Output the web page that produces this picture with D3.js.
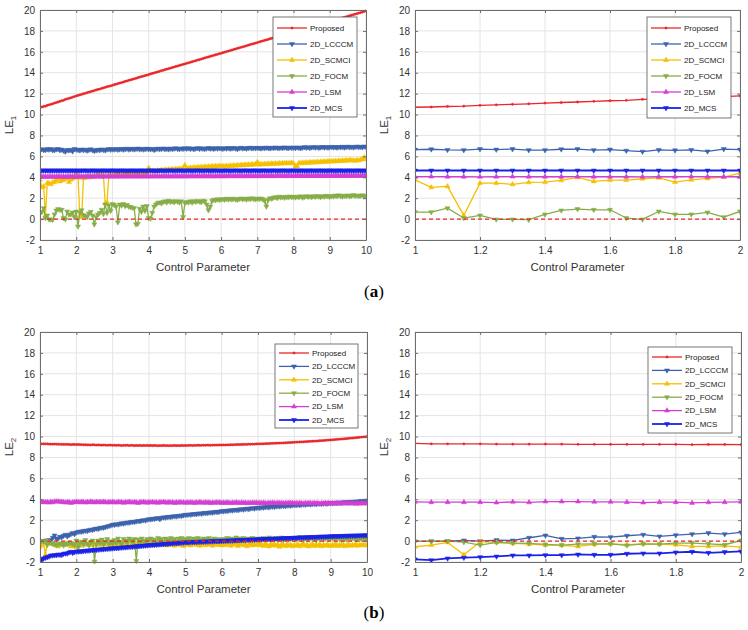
<!DOCTYPE html>
<html><head><meta charset="utf-8">
<script src="https://cdn.jsdelivr.net/npm/d3@7"></script>
<style>
body{margin:0;background:#fff;}
svg{display:block;font-family:"Liberation Sans",Arial,sans-serif;}
</style>
</head><body>
<svg id="chart" width="748" height="630"></svg>
<script>
// ---------- DATA ----------
const seriesNames = ["Proposed","2D_LCCCM","2D_SCMCI","2D_FOCM","2D_LSM","2D_MCS"];
// control parameter 1 .. 10, step 0.05 (181 samples)
const xValues = d3.range(181).map(i => Math.round((1 + i * 0.05) * 100) / 100);
const xTicksWide = [1,2,3,4,5,6,7,8,9,10];
const xTicksZoom = [1,1.2,1.4,1.6,1.8,2];
const yTicks = [-2,0,2,4,6,8,10,12,14,16,18,20];

// ----- (a) LE1 -----
const A_Proposed = [
10.70,10.72,10.77,10.80,10.88,10.93,10.98,11.03,11.10,11.15,11.20,11.26,11.32,11.36,11.45,11.50,11.55,11.60,11.66,11.72,11.78,
11.83,11.88,11.93,11.99,12.03,12.09,12.14,12.19,12.24,12.29,12.35,12.40,12.44,12.50,12.55,12.60,12.66,12.70,12.75,12.80,
12.86,12.90,12.96,13.01,13.06,13.11,13.17,13.21,13.27,13.31,13.37,13.42,13.47,13.52,13.57,13.63,13.67,13.73,13.77,13.82,
13.88,13.93,13.98,14.03,14.08,14.13,14.19,14.23,14.29,14.34,14.39,14.44,14.49,14.54,14.60,14.64,14.70,14.74,14.80,14.84,
14.90,14.95,15.00,15.05,15.10,15.15,15.21,15.25,15.31,15.36,15.41,15.46,15.51,15.56,15.62,15.66,15.72,15.76,15.82,15.86,
15.92,15.97,16.02,16.07,16.12,16.17,16.23,16.27,16.33,16.38,16.43,16.48,16.53,16.58,16.64,16.68,16.74,16.78,16.84,16.88,
16.94,16.99,17.04,17.09,17.14,17.19,17.25,17.29,17.35,17.40,17.45,17.50,17.55,17.60,17.66,17.70,17.76,17.80,17.86,17.90,
17.95,18.00,18.05,18.10,18.15,18.20,18.25,18.30,18.35,18.40,18.45,18.50,18.55,18.60,18.65,18.70,18.75,18.80,18.85,18.90,
18.95,19.00,19.05,19.10,19.15,19.20,19.25,19.30,19.35,19.40,19.45,19.50,19.55,19.60,19.65,19.70,19.75,19.80,19.86,19.92];
const A_LCCCM = [
6.65,6.68,6.62,6.60,6.70,6.65,6.70,6.60,6.60,6.68,6.70,6.60,6.65,6.55,6.45,6.62,6.58,6.62,6.48,6.70,6.65,
6.62,6.58,6.66,6.60,6.64,6.55,6.62,6.68,6.60,6.52,6.58,6.63,6.60,6.67,6.62,6.58,6.66,6.70,6.64,6.68,
6.66,6.70,6.64,6.68,6.72,6.65,6.70,6.74,6.66,6.69,6.73,6.67,6.71,6.75,6.68,6.72,6.66,6.70,6.74,6.70,
6.68,6.72,6.62,6.70,6.74,6.69,6.72,6.76,6.70,6.73,6.68,6.75,6.71,6.74,6.78,6.72,6.70,6.76,6.73,6.77,
6.74,6.78,6.72,6.76,6.70,6.75,6.79,6.73,6.77,6.74,6.71,6.76,6.80,6.74,6.77,6.72,6.78,6.75,6.79,6.76,
6.73,6.78,6.75,6.80,6.74,6.77,6.81,6.76,6.70,6.78,6.82,6.76,6.79,6.74,6.80,6.83,6.77,6.81,6.78,6.82,
6.79,6.76,6.82,6.78,6.84,6.80,6.77,6.83,6.79,6.85,6.81,6.78,6.84,6.80,6.86,6.82,6.79,6.85,6.81,6.84,
6.80,6.86,6.82,6.79,6.85,6.88,6.83,6.87,6.81,6.86,6.89,6.84,6.88,6.82,6.87,6.90,6.85,6.89,6.83,6.88,
6.91,6.86,6.89,6.84,6.90,6.87,6.92,6.85,6.89,6.93,6.87,6.91,6.86,6.90,6.94,6.88,6.92,6.87,6.95,6.90];
const A_SCMCI = [
3.76,3.03,3.13,0.35,3.44,3.44,3.32,3.51,3.54,3.70,3.99,3.60,3.73,3.73,3.86,3.95,3.54,3.76,3.89,4.02,4.40,
3.95,0.30,0.20,3.90,3.95,4.05,3.98,4.10,4.02,4.15,4.08,4.20,4.12,4.18,4.22,1.50,1.60,4.15,4.25,4.20,
4.18,4.28,4.22,4.30,4.25,4.33,4.27,4.35,4.30,4.38,4.32,4.40,4.35,4.42,4.37,4.45,4.40,4.48,4.42,4.90,
4.60,4.55,4.62,4.58,4.66,4.60,4.70,4.64,4.72,4.68,4.75,4.70,4.78,4.73,4.80,4.76,4.83,4.78,4.85,5.15,
4.88,4.84,4.92,4.87,4.95,4.90,4.98,4.93,5.00,4.95,5.02,4.97,5.04,4.99,5.06,5.01,5.08,5.03,5.10,5.05,
5.08,5.02,5.10,5.05,5.12,5.07,5.15,5.09,5.17,5.11,5.19,5.13,5.21,5.15,5.23,5.17,5.25,5.19,5.27,5.45,
5.20,5.26,5.22,5.28,5.24,5.30,5.25,5.32,5.27,5.33,5.29,5.35,5.30,5.36,5.32,5.38,5.33,5.34,5.38,5.33,
5.02,5.06,5.38,5.33,5.40,5.35,5.42,5.37,5.44,5.39,5.46,5.41,5.48,5.43,5.50,5.45,5.52,5.47,5.54,5.49,
5.55,5.50,5.57,5.52,5.59,5.54,5.61,5.56,5.63,5.58,5.65,5.60,5.62,5.57,5.64,5.60,5.68,5.75,5.90,5.72];
const A_FOCM = [
0.67,0.67,1.05,0.10,0.35,-0.03,-0.03,-0.06,0.45,0.83,0.96,0.89,0.89,0.10,-0.03,0.73,0.45,0.45,0.64,0.19,0.73,
-0.70,0.60,0.85,0.40,0.30,0.20,0.55,0.70,0.35,-0.50,0.20,0.45,0.60,0.90,0.50,1.40,0.60,1.30,0.80,1.45,
1.35,1.20,-0.30,1.40,1.30,1.45,1.25,1.35,1.20,1.15,1.10,1.05,-0.50,-0.45,1.00,0.70,1.20,0.80,1.25,0.10,
0.05,0.60,1.20,1.40,1.55,1.60,1.50,1.65,1.70,1.60,1.75,1.65,1.70,1.62,1.72,1.68,1.60,1.70,0.20,1.55,
1.65,1.60,1.70,1.58,1.72,1.66,1.74,1.68,1.62,1.76,1.70,1.40,0.85,1.20,1.75,1.85,1.80,1.90,1.84,1.88,
1.92,1.86,1.95,1.89,1.94,1.88,1.96,1.90,1.85,1.93,1.98,1.91,1.95,1.87,1.97,1.92,1.99,1.94,1.90,1.96,
1.93,1.98,1.90,1.75,1.20,1.85,2.00,1.96,2.05,2.10,2.02,2.15,2.08,2.12,2.05,2.14,2.09,2.16,2.10,2.13,
2.08,2.15,2.10,2.18,2.05,2.12,2.20,2.14,2.17,2.10,2.19,2.13,2.21,2.16,2.11,2.20,2.15,2.23,2.18,2.14,
2.22,2.17,2.25,2.19,2.28,2.21,2.16,2.24,2.20,2.27,2.18,2.23,2.30,2.22,2.26,2.19,2.24,2.28,2.20,2.22];
const A_LSM = [
4.05,4.06,4.05,4.05,4.04,4.05,4.06,4.05,4.05,4.05,4.06,4.05,4.05,4.05,4.04,4.05,4.05,4.06,4.05,4.05,4.05,
4.06,4.05,4.07,4.06,4.05,4.06,4.07,4.06,4.05,4.07,4.06,4.06,4.07,4.05,4.06,4.07,4.06,4.06,4.07,4.06,
4.07,4.06,4.07,4.08,4.06,4.07,4.07,4.08,4.06,4.07,4.08,4.07,4.07,4.08,4.07,4.06,4.08,4.07,4.08,4.07,
4.08,4.07,4.08,4.08,4.09,4.07,4.08,4.09,4.08,4.08,4.09,4.07,4.08,4.09,4.08,4.09,4.08,4.08,4.09,4.08,
4.09,4.08,4.09,4.10,4.08,4.09,4.09,4.10,4.08,4.09,4.10,4.09,4.09,4.10,4.09,4.08,4.10,4.09,4.10,4.09,
4.10,4.09,4.10,4.10,4.11,4.09,4.10,4.11,4.10,4.10,4.11,4.09,4.10,4.11,4.10,4.11,4.10,4.10,4.11,4.10,
4.11,4.10,4.11,4.12,4.10,4.11,4.11,4.12,4.10,4.11,4.12,4.11,4.11,4.12,4.11,4.10,4.12,4.11,4.12,4.11,
4.12,4.11,4.12,4.12,4.13,4.11,4.12,4.13,4.12,4.12,4.13,4.11,4.12,4.13,4.12,4.13,4.12,4.12,4.13,4.12,
4.13,4.12,4.13,4.14,4.12,4.13,4.13,4.14,4.12,4.13,4.14,4.13,4.13,4.14,4.13,4.12,4.14,4.13,4.14,4.13];
const A_MCS = [
4.65,4.65,4.65,4.65,4.65,4.65,4.65,4.65,4.65,4.65,4.65,4.65,4.65,4.65,4.65,4.65,4.65,4.65,4.65,4.65,4.65,
4.65,4.64,4.65,4.66,4.65,4.65,4.64,4.65,4.66,4.65,4.65,4.64,4.65,4.65,4.66,4.65,4.64,4.65,4.65,4.66,
4.65,4.65,4.64,4.65,4.66,4.65,4.65,4.64,4.65,4.65,4.66,4.65,4.64,4.65,4.65,4.66,4.65,4.65,4.64,4.65,
4.66,4.65,4.65,4.64,4.65,4.65,4.66,4.65,4.64,4.65,4.65,4.66,4.65,4.65,4.64,4.65,4.66,4.65,4.65,4.64,
4.65,4.66,4.65,4.64,4.65,4.65,4.66,4.65,4.65,4.64,4.65,4.66,4.65,4.64,4.65,4.65,4.66,4.65,4.65,4.64,
4.65,4.65,4.66,4.65,4.64,4.65,4.65,4.66,4.65,4.65,4.64,4.65,4.66,4.65,4.65,4.64,4.65,4.66,4.65,4.65,
4.64,4.65,4.66,4.65,4.65,4.64,4.65,4.65,4.66,4.65,4.64,4.65,4.65,4.66,4.65,4.65,4.64,4.65,4.66,4.65,
4.65,4.64,4.65,4.66,4.65,4.65,4.64,4.65,4.66,4.65,4.65,4.64,4.65,4.66,4.65,4.65,4.64,4.65,4.65,4.66,
4.65,4.65,4.64,4.65,4.66,4.65,4.65,4.64,4.65,4.66,4.65,4.65,4.64,4.65,4.66,4.65,4.65,4.64,4.65,4.65];

// ----- (b) LE2 -----
const B_Proposed = [
9.35,9.30,9.30,9.30,9.30,9.28,9.27,9.27,9.28,9.27,9.26,9.26,9.25,9.25,9.25,9.25,9.25,9.22,9.24,9.24,9.23,
9.24,9.22,9.23,9.21,9.22,9.20,9.21,9.19,9.22,9.20,9.18,9.20,9.19,9.17,9.19,9.18,9.16,9.18,9.17,9.16,
9.17,9.15,9.17,9.16,9.14,9.16,9.15,9.17,9.14,9.16,9.15,9.13,9.15,9.14,9.16,9.13,9.15,9.14,9.16,9.14,
9.15,9.13,9.15,9.14,9.12,9.14,9.13,9.15,9.13,9.14,9.12,9.14,9.13,9.15,9.13,9.14,9.13,9.15,9.14,9.15,
9.14,9.15,9.16,9.14,9.16,9.15,9.17,9.15,9.16,9.17,9.16,9.18,9.17,9.16,9.18,9.17,9.19,9.18,9.20,9.19,
9.20,9.19,9.21,9.20,9.22,9.21,9.23,9.22,9.24,9.23,9.25,9.24,9.26,9.25,9.27,9.26,9.28,9.27,9.29,9.29,
9.30,9.31,9.31,9.32,9.33,9.33,9.34,9.35,9.35,9.36,9.37,9.38,9.38,9.39,9.40,9.41,9.42,9.43,9.44,9.45,
9.46,9.47,9.48,9.49,9.50,9.51,9.52,9.53,9.54,9.55,9.56,9.57,9.58,9.60,9.61,9.62,9.63,9.65,9.66,9.67,
9.69,9.70,9.72,9.73,9.75,9.76,9.78,9.79,9.81,9.83,9.84,9.86,9.88,9.89,9.91,9.93,9.95,9.96,9.98,10.00];
const B_LCCCM = [
-0.03,-0.03,0.00,0.06,0.00,0.10,0.06,0.32,0.54,0.22,0.26,0.41,0.38,0.51,0.61,0.45,0.57,0.67,0.77,0.67,0.83,
0.88,0.92,0.90,0.96,1.00,0.98,1.05,1.10,1.08,1.15,1.20,1.18,1.25,1.30,1.28,1.35,1.40,1.45,1.50,1.58,
1.55,1.62,1.60,1.66,1.70,1.68,1.74,1.78,1.76,1.82,1.85,1.83,1.89,1.93,1.91,1.97,2.00,1.98,2.05,2.10,
2.08,2.14,2.12,2.18,2.20,2.10,2.24,2.27,2.25,2.30,2.33,2.31,2.36,2.38,2.36,2.41,2.44,2.42,2.47,2.52,
2.50,2.55,2.53,2.58,2.60,2.58,2.63,2.65,2.62,2.68,2.70,2.68,2.73,2.75,2.72,2.78,2.80,2.78,2.83,2.87,
2.85,2.90,2.88,2.93,2.95,2.93,2.98,3.00,2.97,3.03,3.05,3.02,3.08,3.10,3.07,3.13,3.15,3.12,3.18,3.20,
3.18,3.23,3.20,3.25,3.27,3.24,3.29,3.31,3.28,3.33,3.35,3.32,3.37,3.38,3.35,3.40,3.42,3.39,3.44,3.46,
3.44,3.48,3.45,3.50,3.51,3.48,3.53,3.54,3.51,3.56,3.57,3.54,3.58,3.59,3.56,3.60,3.61,3.58,3.63,3.64,
3.62,3.66,3.64,3.68,3.69,3.66,3.71,3.72,3.70,3.74,3.75,3.73,3.77,3.78,3.76,3.81,3.83,3.80,3.85,3.88];
const B_SCMCI = [
-0.54,-0.38,-0.13,-1.31,-0.06,-0.13,-0.22,-0.29,-0.38,-0.41,-0.51,-0.32,-0.26,-0.35,-0.26,-0.29,-0.35,-0.51,-0.51,-0.45,-0.57,
-0.20,-0.45,-0.15,-0.30,-0.10,-0.35,-0.25,-0.05,-0.40,-0.20,-0.30,-0.12,-0.38,-0.22,-0.08,-0.32,-0.18,-0.42,-0.25,-0.15,
-0.30,-0.10,-0.35,-0.20,-0.45,-0.15,-0.28,-0.05,-0.38,-0.22,-0.12,-0.35,-0.25,-0.40,-0.18,-0.30,-0.08,-0.33,-0.20,-0.28,
-0.15,-0.35,-0.22,-0.40,-0.18,-0.30,-0.10,-0.38,-0.25,-0.42,-0.20,-0.33,-0.15,-0.45,-0.28,-0.22,-0.38,-0.30,-0.48,-0.25,
-0.35,-0.20,-0.42,-0.28,-0.15,-0.38,-0.25,-0.45,-0.30,-0.18,-0.40,-0.26,-0.35,-0.22,-0.44,-0.30,-0.20,-0.38,-0.28,-0.42,
-0.25,-0.40,-0.30,-0.18,-0.45,-0.28,-0.35,-0.22,-0.48,-0.32,-0.20,-0.40,-0.27,-0.50,-0.35,-0.23,-0.42,-0.30,-0.38,-0.25,
-0.40,-0.30,-0.48,-0.25,-0.38,-0.52,-0.30,-0.42,-0.28,-0.46,-0.35,-0.55,-0.30,-0.40,-0.48,-0.32,-0.45,-0.36,-0.50,-0.38,
-0.45,-0.33,-0.50,-0.38,-0.28,-0.46,-0.35,-0.52,-0.40,-0.30,-0.48,-0.36,-0.44,-0.32,-0.50,-0.38,-0.46,-0.34,-0.42,-0.48,
-0.36,-0.44,-0.30,-0.48,-0.38,-0.45,-0.33,-0.50,-0.40,-0.35,-0.46,-0.38,-0.42,-0.32,-0.45,-0.38,-0.40,-0.35,-0.42,-0.40];
const B_FOCM = [
-0.03,0.00,0.00,-0.10,-0.38,-0.13,-0.19,-0.22,-0.32,-0.38,-0.29,-0.26,-0.26,-0.41,-0.26,-0.29,-0.19,-0.19,-0.26,-0.35,0.06,
-0.60,-0.20,-0.05,-0.35,0.10,-0.25,-0.40,-0.10,0.05,-1.95,-0.30,0.05,-0.20,0.15,-0.35,-0.05,0.20,-0.25,0.00,-0.30,
0.10,-0.20,0.25,-0.05,-0.30,0.20,0.05,-0.15,0.25,0.10,-0.10,0.20,-1.90,0.15,-0.20,0.25,0.05,-0.15,0.20,0.10,
0.25,0.00,0.15,-0.10,0.30,0.10,0.20,-0.05,0.25,0.15,0.05,0.30,0.10,0.20,-0.05,0.25,0.15,0.30,0.05,0.20,
0.15,0.30,0.05,0.20,0.25,0.10,0.30,0.15,0.00,0.25,0.10,0.20,0.30,0.05,0.15,0.25,0.10,0.20,0.05,0.15,
0.20,0.10,0.30,0.15,0.25,0.05,0.20,0.35,0.10,0.25,0.15,0.30,0.05,0.20,0.25,0.10,0.30,0.15,0.20,0.25,
0.10,0.25,0.30,0.15,0.20,0.35,0.10,0.25,0.20,0.30,0.15,0.25,0.35,0.10,0.20,0.30,0.15,0.25,0.20,0.30,
0.15,0.25,0.40,0.20,0.10,0.30,0.25,0.15,0.35,0.20,0.25,0.10,0.30,0.20,0.35,0.15,0.25,0.30,0.20,0.25,
0.30,0.15,0.25,0.35,0.20,0.10,0.30,0.25,0.15,0.35,0.20,0.30,0.25,0.15,0.30,0.20,0.25,0.35,0.20,0.25];
const B_LSM = [
3.75,3.72,3.72,3.72,3.72,3.68,3.75,3.70,3.78,3.78,3.78,3.75,3.75,3.72,3.68,3.72,3.72,3.65,3.70,3.72,3.75,
3.74,3.70,3.76,3.72,3.68,3.74,3.71,3.77,3.73,3.69,3.75,3.71,3.74,3.70,3.76,3.72,3.68,3.73,3.70,3.74,
3.71,3.68,3.74,3.70,3.73,3.66,3.72,3.69,3.75,3.71,3.68,3.73,3.70,3.64,3.72,3.69,3.74,3.70,3.67,3.72,
3.69,3.73,3.68,3.71,3.66,3.72,3.69,3.74,3.70,3.67,3.72,3.68,3.71,3.65,3.70,3.67,3.72,3.68,3.70,3.66,
3.70,3.67,3.71,3.68,3.65,3.70,3.67,3.72,3.68,3.66,3.70,3.67,3.69,3.64,3.68,3.66,3.71,3.67,3.69,3.65,
3.68,3.65,3.69,3.66,3.63,3.68,3.65,3.70,3.66,3.64,3.68,3.65,3.67,3.62,3.66,3.64,3.68,3.65,3.67,3.63,
3.66,3.63,3.67,3.64,3.61,3.66,3.63,3.67,3.64,3.62,3.66,3.63,3.65,3.60,3.64,3.62,3.66,3.63,3.65,3.61,
3.64,3.61,3.65,3.62,3.59,3.64,3.61,3.65,3.62,3.60,3.64,3.61,3.63,3.55,3.62,3.60,3.64,3.61,3.63,3.59,
3.62,3.59,3.63,3.60,3.58,3.62,3.59,3.63,3.60,3.58,3.62,3.59,3.61,3.57,3.60,3.58,3.62,3.59,3.61,3.60];
const B_MCS = [
-1.75,-1.82,-1.66,-1.59,-1.53,-1.47,-1.37,-1.37,-1.34,-1.34,-1.28,-1.31,-1.31,-1.21,-1.18,-1.18,-1.08,-1.02,-1.12,-1.05,-0.99,
-1.00,-0.97,-0.98,-0.94,-0.93,-0.90,-0.91,-0.87,-0.86,-0.84,-0.84,-0.81,-0.80,-0.78,-0.78,-0.75,-0.74,-0.72,-0.71,-0.69,
-0.68,-0.66,-0.66,-0.63,-0.62,-0.60,-0.60,-0.57,-0.56,-0.54,-0.54,-0.51,-0.50,-0.48,-0.48,-0.45,-0.44,-0.42,-0.41,-0.38,
-0.38,-0.36,-0.35,-0.34,-0.32,-0.31,-0.30,-0.28,-0.27,-0.26,-0.24,-0.23,-0.22,-0.20,-0.19,-0.18,-0.16,-0.15,-0.14,-0.12,
-0.12,-0.11,-0.10,-0.09,-0.09,-0.08,-0.07,-0.06,-0.06,-0.05,-0.04,-0.04,-0.03,-0.02,-0.02,-0.01,0.00,0.00,0.01,0.02,
0.02,0.03,0.04,0.05,0.05,0.06,0.07,0.08,0.08,0.09,0.10,0.11,0.11,0.12,0.13,0.14,0.14,0.15,0.16,0.17,
0.17,0.18,0.19,0.20,0.20,0.21,0.22,0.23,0.23,0.24,0.25,0.26,0.26,0.27,0.28,0.29,0.29,0.30,0.31,0.32,
0.32,0.33,0.34,0.35,0.35,0.36,0.37,0.38,0.38,0.39,0.40,0.40,0.41,0.42,0.42,0.43,0.44,0.44,0.45,0.46,
0.46,0.47,0.47,0.48,0.49,0.49,0.50,0.50,0.51,0.51,0.52,0.52,0.53,0.53,0.54,0.54,0.55,0.55,0.56,0.56];

// ---------- STYLE / LAYOUT ----------
const seriesStyle = [
  {color:"#e8282b", marker:"dot",  width:1.3},
  {color:"#3d63ad", marker:"down", width:1.3},
  {color:"#f5c000", marker:"up",   width:1.3},
  {color:"#86ae48", marker:"down", width:1.3},
  {color:"#d43fd3", marker:"up",   width:1.3},
  {color:"#1a22e6", marker:"down", width:1.8}
];
const dataA = [A_Proposed, A_LCCCM, A_SCMCI, A_FOCM, A_LSM, A_MCS];
const dataB = [B_Proposed, B_LCCCM, B_SCMCI, B_FOCM, B_LSM, B_MCS];

const panels = [
  {data:dataA, xMax:10, ticks:xTicksWide, left:40,  right:366, top:10,  bottom:240, sub:"1",
   leg:{x:273, y:17, w:84, h:100, first:11, step:16}},
  {data:dataA, xMax:2,  ticks:xTicksZoom, left:415, right:740, top:10,  bottom:240, sub:"1",
   leg:{x:647, y:17, w:84, h:101, first:11, step:16}},
  {data:dataB, xMax:10, ticks:xTicksWide, left:40,  right:367, top:332, bottom:562, sub:"2",
   leg:{x:275, y:344, w:83, h:84, first:9, step:13.4}},
  {data:dataB, xMax:2,  ticks:xTicksZoom, left:415, right:741, top:332, bottom:562, sub:"2",
   leg:{x:648, y:347, w:84, h:86, first:10, step:13.4}}
];

const svg = d3.select("#chart");
const triUp = d3.symbol().type(d3.symbolTriangle).size(11)();

function markerPath(kind){
  if (kind === "dot") return d3.symbol().type(d3.symbolCircle).size(4)();
  return triUp;
}
function drawMarker(sel, kind){
  sel.attr("d", markerPath(kind))
     .attr("transform", d => `translate(${d[0]},${d[1]})` + (kind === "down" ? " rotate(180)" : ""));
}

panels.forEach((p, pi) => {
  const g = svg.append("g");
  const x = d3.scaleLinear().domain([1, p.xMax]).range([p.left, p.right]);
  const y = d3.scaleLinear().domain([-2, 20]).range([p.bottom, p.top]);

  // background + grid
  g.append("rect").attr("x", p.left).attr("y", p.top)
    .attr("width", p.right - p.left).attr("height", p.bottom - p.top).attr("fill", "#fff");
  g.selectAll(null).data(p.ticks).join("line")
    .attr("x1", d => x(d)).attr("x2", d => x(d)).attr("y1", p.top).attr("y2", p.bottom)
    .attr("stroke", "#e4e4e4").attr("stroke-width", 1);
  g.selectAll(null).data(yTicks).join("line")
    .attr("x1", p.left).attr("x2", p.right).attr("y1", d => y(d)).attr("y2", d => y(d))
    .attr("stroke", "#e4e4e4").attr("stroke-width", 1);

  const clipId = "clip" + pi;
  svg.append("clipPath").attr("id", clipId).append("rect")
    .attr("x", p.left).attr("y", p.top - 2).attr("width", p.right - p.left).attr("height", p.bottom - p.top + 4);
  const plot = g.append("g").attr("clip-path", `url(#${clipId})`);

  const line = d3.line().x(d => d[0]).y(d => d[1]);
  p.data.forEach((vals, k) => {
    const st = seriesStyle[k];
    const pts = vals.map((v, i) => [xValues[i], v])
      .filter(d => d[0] <= p.xMax + 1e-9)
      .map(d => [x(d[0]), y(d[1])]);
    plot.append("path").attr("d", line(pts)).attr("fill", "none")
      .attr("stroke", st.color).attr("stroke-width", st.width).attr("stroke-linejoin", "round");
    const m = plot.append("g").attr("fill", st.color).attr("stroke", st.color).attr("stroke-width", 0.5);
    drawMarker(m.selectAll("path").data(pts).join("path"), st.marker);
  });

  // zero reference line
  plot.append("line").attr("x1", p.left).attr("x2", p.right).attr("y1", y(0)).attr("y2", y(0))
    .attr("stroke", "#e8282b").attr("stroke-width", 1.1).attr("stroke-dasharray", "4,3");

  // axes
  const fmt = d => String(d);
  const axCol = "#6e6e6e";
  const ax = [
    g.append("g").attr("transform", `translate(0,${p.bottom})`)
      .call(d3.axisBottom(x).tickValues(p.ticks).tickFormat(fmt).tickSizeInner(-3).tickSizeOuter(0).tickPadding(7)),
    g.append("g").attr("transform", `translate(${p.left},0)`)
      .call(d3.axisLeft(y).tickValues(yTicks).tickFormat(fmt).tickSizeInner(-3).tickSizeOuter(0).tickPadding(5)),
    g.append("g").attr("transform", `translate(0,${p.top})`)
      .call(d3.axisTop(x).tickValues(p.ticks).tickFormat("").tickSizeInner(-3).tickSizeOuter(0)),
    g.append("g").attr("transform", `translate(${p.right},0)`)
      .call(d3.axisRight(y).tickValues(yTicks).tickFormat("").tickSizeInner(-3).tickSizeOuter(0))
  ];
  ax.forEach(a => {
    a.select(".domain").attr("stroke", axCol);
    a.selectAll(".tick line").attr("stroke", axCol);
    a.selectAll(".tick text").attr("fill", "#333").style("font-size", "10px")
      .style("font-family", '"Liberation Sans", Arial, sans-serif');
  });

  // axis titles
  g.append("text").attr("x", (p.left + p.right) / 2).attr("y", p.bottom + 31)
    .attr("text-anchor", "middle").attr("fill", "#333").style("font-size", "11.5px")
    .text("Control Parameter");
  const yl = g.append("text")
    .attr("transform", `translate(${p.left - 27},${(p.top + p.bottom) / 2}) rotate(-90)`)
    .attr("text-anchor", "middle").attr("fill", "#333").style("font-size", "11.5px");
  yl.append("tspan").text("LE");
  yl.append("tspan").attr("dy", "0.35em").style("font-size", "8px").text(p.sub);

  // legend
  const L = p.leg;
  const lg = g.append("g");
  lg.append("rect").attr("x", L.x).attr("y", L.y).attr("width", L.w).attr("height", L.h)
    .attr("fill", "#fff").attr("stroke", "#555").attr("stroke-width", 0.8);
  seriesNames.forEach((name, k) => {
    const st = seriesStyle[k];
    const ly = L.y + L.first + k * L.step;
    lg.append("line").attr("x1", L.x + 4).attr("x2", L.x + 34).attr("y1", ly).attr("y2", ly)
      .attr("stroke", st.color).attr("stroke-width", st.width);
    const mk = lg.append("g").attr("fill", st.color).attr("stroke", st.color).attr("stroke-width", 0.5);
    drawMarker(mk.selectAll("path").data([[L.x + 19, ly]]).join("path"), st.marker);
    lg.append("text").attr("x", L.x + 37).attr("y", ly).attr("dy", "0.35em")
      .attr("fill", "#222").style("font-size", "8px").text(name);
  });
});

// sub-figure captions
const captions = [{t:"a", y:297}, {t:"b", y:618}];
captions.forEach(c => {
  const t = svg.append("text").attr("x", 374).attr("y", c.y).attr("text-anchor", "middle")
    .style("font-family", '"Liberation Serif", "DejaVu Serif", serif').style("font-size", "17px").attr("fill", "#000");
  t.append("tspan").text("(");
  t.append("tspan").style("font-weight", "bold").text(c.t);
  t.append("tspan").text(")");
});
</script>
</body></html>
